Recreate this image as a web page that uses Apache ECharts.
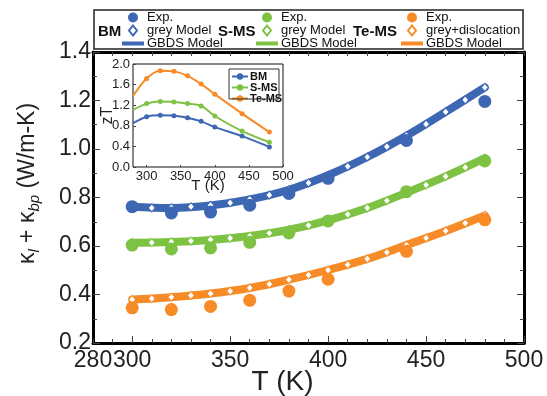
<!DOCTYPE html>
<html>
<head>
<meta charset="utf-8">
<script src="https://cdn.jsdelivr.net/npm/echarts@6/dist/echarts.min.js"></script>
<style>
  html, body { margin: 0; padding: 0; background: #fff; }
  #chart { width: 547px; height: 396px; }
</style>
</head>
<body>
<div id="chart"></div>
<script>
let dom = document.getElementById("chart");
let myChart = echarts.init(dom, null, { renderer: "canvas" });

// experimental temperatures (K)
const expT = [300, 320, 340, 360, 380, 400, 440, 480];
const bmExp = [0.762, 0.736, 0.74, 0.768, 0.817, 0.879, 1.035, 1.196];
const smsExp = [0.604, 0.588, 0.592, 0.615, 0.654, 0.703, 0.824, 0.951];
const temsExp = [0.345, 0.338, 0.351, 0.376, 0.414, 0.463, 0.578, 0.708];

// grey model, every 10 K
const modelT = [300, 310, 320, 330, 340, 350, 360, 370, 380, 390, 400, 410, 420, 430, 440, 450, 460, 470, 480];
const bmModel = [0.762, 0.757, 0.758, 0.762, 0.768, 0.778, 0.792, 0.81, 0.832, 0.86, 0.892, 0.928, 0.967, 1.01, 1.055, 1.103, 1.153, 1.203, 1.254];
const smsModel = [0.614, 0.614, 0.617, 0.621, 0.626, 0.632, 0.641, 0.653, 0.667, 0.685, 0.706, 0.73, 0.757, 0.787, 0.82, 0.852, 0.887, 0.924, 0.962];
const temsModel = [0.379, 0.383, 0.389, 0.396, 0.404, 0.414, 0.427, 0.443, 0.461, 0.48, 0.501, 0.523, 0.547, 0.574, 0.604, 0.633, 0.662, 0.694, 0.726];

// GBDS model, every 20 K
const gbdsT = [300, 320, 340, 360, 380, 400, 420, 440, 460, 480];
const bmGbds = [0.762, 0.757, 0.767, 0.792, 0.832, 0.892, 0.967, 1.055, 1.153, 1.254];
const smsGbds = [0.613, 0.616, 0.625, 0.641, 0.667, 0.706, 0.757, 0.82, 0.887, 0.962];
const temsGbds = [0.379, 0.389, 0.404, 0.427, 0.461, 0.501, 0.547, 0.604, 0.662, 0.726];

// inset zT
const insetT = [280, 300, 320, 340, 360, 380, 400, 440, 480];
const bmZT = [0.85, 0.977, 1.003, 0.997, 0.958, 0.886, 0.775, 0.6, 0.39];
const smsZT = [1.107, 1.231, 1.27, 1.264, 1.231, 1.186, 0.99, 0.697, 0.482];
const temsZT = [1.38, 1.72, 1.87, 1.857, 1.77, 1.61, 1.414, 1.036, 0.678];

const xLabels = [280, 300, 350, 400, 450, 500];
const xMajor = [300, 350, 400, 450, 500];
const insetXLabels = [300, 350, 400, 450, 500];

const BLUE = "#3d67b3";
const GREEN = "#7dc243";
const ORANGE = "#f68b28";
const FONT = "Liberation Sans";

function pairs(xs, ys) {
    return xs.map((x, i) => [x, ys[i]]);
}
function insetPairs(xs, ys) {
    return xs.map((x, i) => (i === 0 ? { value: [x, ys[i]], symbol: "none" } : [x, ys[i]]));
}

const lineIcon = "path://M0,0H22V4H0Z";
const diaIcon = "path://M4,0L8,5L4,10L0,5Z";

function expSeries(name, data, color) {
    return {
        name: name, type: "scatter", xAxisIndex: 0, yAxisIndex: 0,
        symbol: "circle", symbolSize: 13, z: 5,
        itemStyle: { color: color, opacity: 1 },
        data: pairs(expT, data),
    };
}
function modelSeries(name, data, color) {
    return {
        name: name, type: "scatter", xAxisIndex: 0, yAxisIndex: 0,
        symbol: "diamond", symbolSize: [7, 8], z: 4,
        itemStyle: { color: "#fff", borderColor: color, borderWidth: 1, opacity: 1 },
        data: pairs(modelT, data),
    };
}
function gbdsSeries(name, data, color) {
    return {
        name: name, type: "line", xAxisIndex: 0, yAxisIndex: 0,
        smooth: 0.4, showSymbol: false, z: 3,
        itemStyle: { color: color },
        lineStyle: { color: color, width: 8, cap: "round" },
        data: pairs(gbdsT, data),
    };
}
function insetSeries(name, data, color) {
    return {
        name: name, type: "line", xAxisIndex: 3, yAxisIndex: 2,
        smooth: 0.3, symbol: "circle", symbolSize: 5, z: 6,
        itemStyle: { color: color },
        lineStyle: { color: color, width: 2 },
        data: insetPairs(insetT, data),
    };
}

function groupLegend(left, prefix) {
    return {
        left: left, top: 11, orient: "vertical", padding: 0,
        itemGap: 0, itemWidth: 22, itemHeight: 10, selectedMode: false,
        textStyle: { fontFamily: FONT, fontSize: 13, color: "#111", lineHeight: 13, padding: [0, 0, 0, -2] },
        formatter: (n) => n.split("|")[1],
        data: [
            { name: prefix + "|Exp.", icon: "circle" },
            { name: prefix + "|" + (prefix === "Te-MS" ? "grey+dislocation" : "grey Model"), icon: diaIcon },
            { name: prefix + "|GBDS Model", icon: lineIcon },
        ],
    };
}

const axisFont = { fontFamily: FONT, color: "#222" };

let option = {
    animation: false,
    backgroundColor: "#fff",
    grid: [
        { left: 93, right: 23, top: 52, bottom: 53, outerBoundsMode: "none" },
        { left: 133, right: 264, top: 64, bottom: 229, outerBoundsMode: "none", show: true, backgroundColor: "#fff", borderColor: "#111", borderWidth: 1 },
    ],
    legend: [
        groupLegend(122, "BM"),
        groupLegend(256, "S-MS"),
        groupLegend(401, "Te-MS"),
        {
            left: 231, top: 71, orient: "vertical", padding: [0, 0, 0, 0],
            itemGap: 0, itemWidth: 16, itemHeight: 8, selectedMode: false, z: 8,
            textStyle: { fontFamily: FONT, fontSize: 11, fontWeight: "bold", color: "#111", lineHeight: 9, padding: [0, 0, 0, -3] },
            data: ["BM", "S-MS", "Te-MS"],
        },
    ],
    graphic: [
        { type: "rect", shape: { x: 94, y: 10, width: 429, height: 39 }, style: { fill: "none", stroke: "#222", lineWidth: 1.5 }, z: 10 },
        { type: "rect", shape: { x: 229, y: 69, width: 50, height: 30 }, style: { fill: "none", stroke: "#333", lineWidth: 1 }, z: 20 },
        { type: "text", x: 98, y: 32, style: { text: "BM", font: "bold 15px " + FONT, fill: "#111", verticalAlign: "middle" } },
        { type: "text", x: 218, y: 32, style: { text: "S-MS", font: "bold 15px " + FONT, fill: "#111", verticalAlign: "middle" } },
        { type: "text", x: 353, y: 32, style: { text: "Te-MS", font: "bold 15px " + FONT, fill: "#111", verticalAlign: "middle" } },
    ],
    xAxis: [
        {
            gridIndex: 0, type: "value", min: 280, max: 500, interval: 10, position: "bottom",
            axisLine: { lineStyle: { color: "#000", width: 3 } },
            axisTick: { inside: true, length: 4, lineStyle: { color: "#444" } },
            axisLabel: { customValues: xLabels, fontSize: 23, margin: 6, ...axisFont },
            splitLine: { show: false },
            name: "T (K)", nameLocation: "middle", nameGap: 25, nameMoveOverlap: false,
            nameTextStyle: { fontSize: 28, fontFamily: FONT, color: "#222", padding: [0, 52, 0, 0] },
        },
        {
            gridIndex: 0, type: "value", min: 280, max: 500, interval: 10, position: "bottom",
            axisLine: { show: false },
            axisTick: { inside: true, length: 7, customValues: xMajor, lineStyle: { color: "#444" } },
            axisLabel: { show: false }, splitLine: { show: false },
        },
        {
            gridIndex: 0, type: "value", min: 280, max: 500, interval: 10, position: "top",
            axisLine: { lineStyle: { color: "#000", width: 3 } },
            axisTick: { inside: true, length: 4, lineStyle: { color: "#444" } },
            axisLabel: { show: false }, splitLine: { show: false },
        },
        {
            gridIndex: 1, type: "value", min: 280, max: 500, interval: 10,
            axisLine: { show: false },
            axisTick: { inside: true, length: 2, customValues: insetXLabels, lineStyle: { color: "#444" } },
            axisLabel: {
                interval: 0, showMaxLabel: true, fontSize: 13, margin: 3, ...axisFont,
                formatter: (v) => (insetXLabels.includes(Math.round(v)) ? String(Math.round(v)) : ""),
            },
            splitLine: { show: false },
            name: "T (K)", nameLocation: "middle", nameGap: 11, nameMoveOverlap: false,
            nameTextStyle: { fontSize: 15, fontFamily: FONT, color: "#222" },
        },
    ],
    yAxis: [
        {
            gridIndex: 0, type: "value", min: 0.2, max: 1.4, interval: 0.2, position: "left",
            axisLine: { lineStyle: { color: "#000", width: 3 } },
            axisTick: { inside: true, length: 7, lineStyle: { color: "#444" } },
            minorTick: { show: true, splitNumber: 2, length: 4, lineStyle: { color: "#444" } },
            axisLabel: { fontSize: 23, margin: 2, formatter: (v) => v.toFixed(1), ...axisFont },
            splitLine: { show: false },
            name: "{g|κ}{s|l}{g| + κ}{s|bp}{g| (W/m-K)}", nameLocation: "middle", nameGap: 51, nameMoveOverlap: false,
            nameTextStyle: {
                fontFamily: FONT, color: "#222", padding: [0, 0, 0, 28],
                rich: {
                    g: { fontSize: 23, fontFamily: FONT, color: "#222", lineHeight: 28, verticalAlign: "middle" },
                    s: { fontSize: 15, fontFamily: FONT, fontStyle: "italic", color: "#222", lineHeight: 28, verticalAlign: "bottom" },
                },
            },
        },
        {
            gridIndex: 0, type: "value", min: 0.2, max: 1.4, interval: 0.2, position: "right",
            axisLine: { lineStyle: { color: "#000", width: 3 } },
            axisTick: { inside: true, length: 7, lineStyle: { color: "#444" } },
            minorTick: { show: true, splitNumber: 2, length: 4, lineStyle: { color: "#444" } },
            axisLabel: { show: false }, splitLine: { show: false },
        },
        {
            gridIndex: 1, type: "value", min: 0, max: 2, interval: 0.4,
            axisLine: { show: false },
            axisTick: { inside: true, length: 3, lineStyle: { color: "#444" } },
            axisLabel: { fontSize: 13, margin: 3, formatter: (v) => v.toFixed(1), ...axisFont },
            splitLine: { show: false },
            name: "zT", nameLocation: "middle", nameGap: 17, nameMoveOverlap: false,
            nameTextStyle: { fontSize: 16, fontFamily: FONT, color: "#222" },
        },
    ],
    series: [
        gbdsSeries("BM|GBDS Model", bmGbds, BLUE),
        gbdsSeries("S-MS|GBDS Model", smsGbds, GREEN),
        gbdsSeries("Te-MS|GBDS Model", temsGbds, ORANGE),
        modelSeries("BM|grey Model", bmModel, BLUE),
        modelSeries("S-MS|grey Model", smsModel, GREEN),
        modelSeries("Te-MS|grey+dislocation", temsModel, ORANGE),
        expSeries("BM|Exp.", bmExp, BLUE),
        expSeries("S-MS|Exp.", smsExp, GREEN),
        expSeries("Te-MS|Exp.", temsExp, ORANGE),
        insetSeries("BM", bmZT, BLUE),
        insetSeries("S-MS", smsZT, GREEN),
        insetSeries("Te-MS", temsZT, ORANGE),
    ],
};

if (option && typeof option === "object") {
    myChart.setOption(option);
}

window.addEventListener("resize", myChart.resize);
</script>
</body>
</html>
